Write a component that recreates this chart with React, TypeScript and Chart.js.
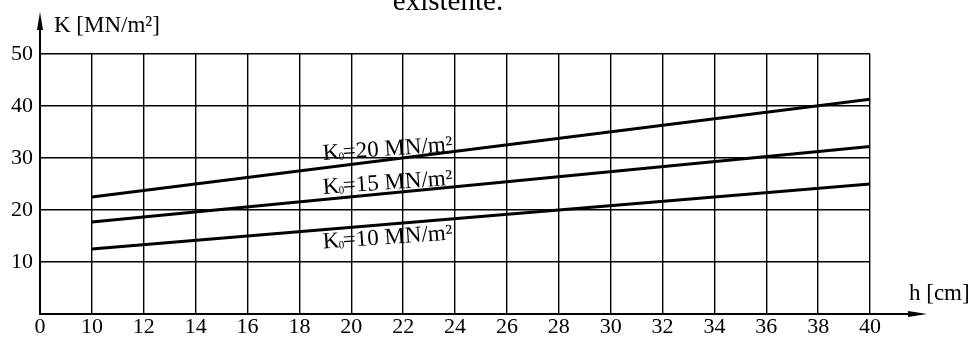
import React, { useEffect, useRef } from 'react';
import { Chart, registerables } from 'chart.js';

Chart.register(...registerables);

// Axis tick labels (the h axis jumps from 0 straight to 10, then steps of 2)
const xTickLabels = ['0', '10', '12', '14', '16', '18', '20', '22', '24', '26', '28', '30', '32', '34', '36', '38', '40'];
const yTickValues = [10, 20, 30, 40, 50];

// h [cm] values at which the curves are read
const hValues = [10, 40];
// K [MN/m²] values for each K0 curve
const k0_20 = [22.5, 41.3];
const k0_15 = [17.7, 32.2];
const k0_10 = [12.5, 25.0];

// curve labels: "K" + subscript "0" + rest
const seriesK0 = ['20', '15', '10'];
const seriesLabels = seriesK0.map((v) => `K\u2080=${v} MN/m\u00b2`);
const titleText = 'existente.';
const yAxisTitle = 'K [MN/m\u00b2]';
const xAxisTitle = 'h [cm]';

const FONT_FAMILY = "'Liberation Serif', 'Times New Roman', Times, serif";

// position of an h value on the (non-uniform) axis index
const hPos = (h: number) => xTickLabels.indexOf(String(h));

export default function App() {
  const ref = useRef<HTMLCanvasElement | null>(null);

  useEffect(() => {
    document.body.style.margin = '0';
    const canvas = ref.current;
    if (!canvas) return;

    const mk = (vals: number[]) => hValues.map((h, i) => ({ x: hPos(h), y: vals[i] }));

    const labelPlacement = [
      { h: 21.4, k: 32.0 },
      { h: 21.4, k: 25.5 },
      { h: 21.4, k: 15.0 },
    ];

    const decor = {
      id: 'decor',
      afterDraw(chart: any) {
        const ctx = chart.ctx as CanvasRenderingContext2D;
        const xs = chart.scales.x;
        const ys = chart.scales.y;
        const x0 = xs.getPixelForValue(0);
        const y0 = ys.getPixelForValue(0);
        ctx.save();
        ctx.strokeStyle = '#000';
        ctx.fillStyle = '#000';
        ctx.lineWidth = 2;
        // y axis with arrow
        ctx.beginPath();
        ctx.moveTo(x0, y0 + 1);
        ctx.lineTo(x0, 24);
        ctx.stroke();
        ctx.beginPath();
        ctx.moveTo(x0, 12);
        ctx.lineTo(x0 - 3, 30);
        ctx.lineTo(x0 + 3, 30);
        ctx.closePath();
        ctx.fill();
        // x axis with arrow
        ctx.beginPath();
        ctx.moveTo(x0 - 1, y0);
        ctx.lineTo(915, y0);
        ctx.stroke();
        ctx.beginPath();
        ctx.moveTo(927, y0);
        ctx.lineTo(908, y0 - 3);
        ctx.lineTo(908, y0 + 3);
        ctx.closePath();
        ctx.fill();

        // axis titles
        ctx.font = `23px ${FONT_FAMILY}`;
        ctx.textBaseline = 'alphabetic';
        ctx.textAlign = 'left';
        ctx.fillText(yAxisTitle, 54, 32);
        ctx.fillText(xAxisTitle, 909, 300);

        // title (cut off at the top)
        ctx.font = `29px ${FONT_FAMILY}`;
        ctx.textAlign = 'center';
        ctx.fillText(titleText, 448, 10);

        // curve labels
        ctx.textAlign = 'left';
        ctx.textBaseline = 'alphabetic';
        const bigFont = `23px ${FONT_FAMILY}`;
        const subFont = `11px ${FONT_FAMILY}`;
        labelPlacement.forEach((p, i) => {
          const px = xs.getPixelForValue(1 + (p.h - 10) / 2);
          const py = ys.getPixelForValue(p.k);
          const rest = `=${seriesK0[i]} MN/m\u00b2`;
          ctx.font = bigFont;
          const wK = ctx.measureText('K').width;
          const wRest = ctx.measureText(rest).width;
          ctx.font = subFont;
          const wSub = ctx.measureText('0').width;
          const total = wK + wSub - 2 + wRest;
          ctx.save();
          ctx.translate(px, py);
          ctx.rotate((-4 * Math.PI) / 180);
          let cx = -total / 2;
          const base = 8;
          ctx.font = bigFont;
          ctx.fillText('K', cx, base);
          cx += wK;
          ctx.font = subFont;
          ctx.fillText('0', cx - 1, base + 1);
          cx += wSub - 2;
          ctx.font = bigFont;
          ctx.fillText(rest, cx, base);
          ctx.restore();
        });
        ctx.restore();
      },
    };

    const tickFont = { family: FONT_FAMILY, size: 22 };

    const chart = new Chart(canvas, {
      type: 'line',
      data: {
        datasets: [
          { label: seriesLabels[0], data: mk(k0_20), borderColor: '#000', borderWidth: 3, pointRadius: 0 },
          { label: seriesLabels[1], data: mk(k0_15), borderColor: '#000', borderWidth: 3, pointRadius: 0 },
          { label: seriesLabels[2], data: mk(k0_10), borderColor: '#000', borderWidth: 3, pointRadius: 0 },
        ],
      },
      options: {
        responsive: false,
        animation: false,
        events: [],
        layout: { padding: { top: 54, right: 106, left: 0, bottom: 0 } },
        plugins: { legend: { display: false }, tooltip: { enabled: false }, title: { display: false } },
        scales: {
          x: {
            type: 'linear',
            min: 0,
            max: xTickLabels.length - 1,
            afterFit: (s: any) => { s.height = 26; },
            ticks: {
              stepSize: 1,
              autoSkip: false,
              maxRotation: 0,
              padding: 0,
              color: '#000',
              font: tickFont,
              callback: (v: any) => xTickLabels[v] ?? '',
            },
            grid: {
              drawTicks: false,
              lineWidth: 1.4,
              color: (c: any) => (c.tick && c.tick.value === 0 ? 'rgba(0,0,0,0)' : '#000'),
            },
            border: { display: false },
          },
          y: {
            type: 'linear',
            min: 0,
            max: 50,
            afterFit: (s: any) => { s.width = 40; },
            ticks: {
              stepSize: 10,
              padding: 7,
              color: '#000',
              font: tickFont,
              callback: (v: any) => (yTickValues.includes(v) ? String(v) : ''),
            },
            grid: {
              drawTicks: false,
              lineWidth: 1.4,
              color: (c: any) => (c.tick && c.tick.value === 0 ? 'rgba(0,0,0,0)' : '#000'),
            },
            border: { display: false },
          },
        },
      },
      plugins: [decor],
    });

    return () => chart.destroy();
  }, []);

  return (
    <div style={{ width: 976, height: 340 }}>
      <canvas ref={ref} width={976} height={340} style={{ display: 'block' }} />
    </div>
  );
}
